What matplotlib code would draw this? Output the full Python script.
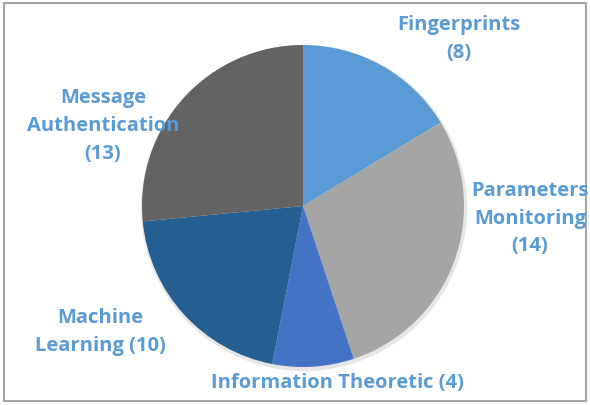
import matplotlib
matplotlib.use('Agg')
import matplotlib.pyplot as plt
from matplotlib.patches import Rectangle

labels = ['Fingerprints\n(8)', 'Parameters\nMonitoring\n(14)', 'Information Theoretic (4)',
          'Machine\nLearning (10)', 'Message\nAuthentication\n(13)']
values = [8, 14, 4, 10, 13]
colors = ['#5B9BD5', '#A5A5A5', '#4472C4', '#255E91', '#636363']

# label centres in pixel coords (x, y from top)
label_pos = [(459, 39), (530, 219), (337, 383), (100, 332), (103, 126)]

W, H = 590, 406
fig = plt.figure(figsize=(W / 100, H / 100), dpi=100)
ax = fig.add_axes([0, 0, 1, 1])

# chart border
ax.add_patch(Rectangle((4, 4), W - 8, H - 8, fill=False, edgecolor='#A6A6A6', linewidth=1.5))

cx, cy, r = 303, H - 207, 161
# soft shadow
ax.pie([1], radius=r + 2, center=(cx + 1, cy - 2), colors=['#e6e6e6'], frame=True)
ax.pie(values, radius=r, center=(cx, cy), colors=colors, startangle=90,
       counterclock=False, frame=True, wedgeprops=dict(linewidth=0))
ax.set_xlim(0, W)
ax.set_ylim(0, H)
ax.set_aspect('equal')
ax.axis('off')

for lab, (x, y) in zip(labels, label_pos):
    ax.text(x, H - y, lab, ha='center', va='center', fontsize=14.5, fontweight='bold',
            color='#5B9BD5', family='Open Sans', linespacing=1.5)

fig.savefig('out.png', dpi=100)
